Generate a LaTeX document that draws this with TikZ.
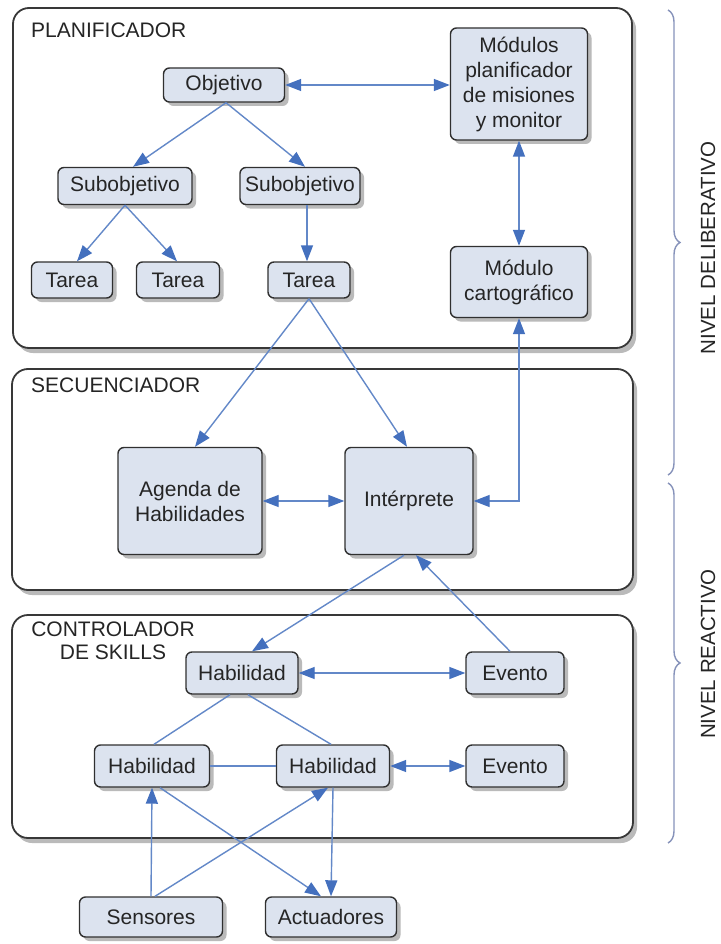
\documentclass[tikz,border=0pt]{standalone}
\usepackage{fontspec}
\setmainfont{Liberation Sans}
\usetikzlibrary{arrows.meta,shadows,decorations.pathreplacing,calc}
\definecolor{boxfill}{HTML}{DCE3EF}
\definecolor{boxline}{HTML}{303030}
\definecolor{panelline}{HTML}{383838}
\definecolor{arrowblue}{HTML}{4470BE}
\definecolor{linkblue}{HTML}{6388C8}
\definecolor{bracecol}{HTML}{8692BA}
\definecolor{txt}{HTML}{252525}
\begin{document}
\begin{tikzpicture}[x=1pt,y=-1pt,
  font=\fontsize{21}{25}\selectfont, text=txt,
  box/.style={draw=boxline, fill=boxfill, rounded corners=6pt, line width=1.4pt,
    drop shadow={shadow xshift=4pt, shadow yshift=-4pt, fill=black!45, opacity=0.6},
    align=center, inner sep=0pt},
  panel/.style={draw=panelline, fill=white, rounded corners=16pt, line width=1.8pt,
    drop shadow={shadow xshift=4pt, shadow yshift=-5pt, fill=black!45, opacity=0.6},
    inner sep=0pt},
  conn/.style={draw=linkblue, line width=1.4pt},
  arr/.style={conn, -{Triangle[length=16pt,width=12pt,fill=arrowblue,color=arrowblue]}},
  darr/.style={conn, {Triangle[length=16pt,width=12pt,fill=arrowblue,color=arrowblue]}-{Triangle[length=16pt,width=12pt,fill=arrowblue,color=arrowblue]}},
  lbl/.style={anchor=west, inner sep=0pt},
  brc/.style={draw=bracecol, line width=1.4pt, decorate, decoration={brace, amplitude=12pt}}
]
\useasboundingbox (0,0) rectangle (720,944);
\fill[white] (0,0) rectangle (720,944);

% panels
\node[panel, minimum width=619pt, minimum height=340pt] (p1) at (322.5,178) {};
\node[panel, minimum width=621pt, minimum height=221pt] (p2) at (322.5,479.5) {};
\node[panel, minimum width=621pt, minimum height=223pt] (p3) at (322.5,726.5) {};

\node[lbl] (l1) at (31,30) {PLANIFICADOR};
\node[lbl] (l2) at (31,385) {SECUENCIADOR};
\node[align=center, inner sep=0pt, font=\fontsize{21}{23}\selectfont] (l3) at (113,641) {CONTROLADOR\\DE SKILLS};

% planner nodes
\node[box, minimum width=121pt, minimum height=34pt] (obj) at (224,85) {Objetivo};
\node[box, minimum width=137pt, minimum height=112pt] (mod) at (519,84) {Módulos\\planificador\\de misiones\\y monitor};
\node[box, minimum width=134pt, minimum height=37pt] (subL) at (125,186) {Subobjetivo};
\node[box, minimum width=120pt, minimum height=37pt] (subR) at (300,186) {Subobjetivo};
\node[box, minimum width=81pt, minimum height=36pt] (t1) at (72,280) {Tarea};
\node[box, minimum width=83pt, minimum height=36pt] (t2) at (178,280) {Tarea};
\node[box, minimum width=82pt, minimum height=36pt] (t3) at (309,280) {Tarea};
\node[box, minimum width=137pt, minimum height=71pt] (carto) at (519,282) {Módulo\\cartográfico};

% sequencer nodes
\node[box, minimum width=144pt, minimum height=107pt] (agenda) at (190,501) {Agenda de\\Habilidades};
\node[box, minimum width=128pt, minimum height=107pt] (interp) at (409,501) {Intérprete};

% controller nodes
\node[box, minimum width=112pt, minimum height=42pt] (habT) at (242,673) {Habilidad};
\node[box, minimum width=98pt, minimum height=42pt] (evT) at (515,673) {Evento};
\node[box, minimum width=115pt, minimum height=42pt] (habL) at (152,766) {Habilidad};
\node[box, minimum width=113pt, minimum height=42pt] (habM) at (333,766) {Habilidad};
\node[box, minimum width=98pt, minimum height=42pt] (evB) at (515,766) {Evento};
\node[box, minimum width=143pt, minimum height=40pt] (sens) at (151,917) {Sensores};
\node[box, minimum width=131pt, minimum height=40pt] (act) at (331,917) {Actuadores};

% planner connectors
\draw[darr] (obj.east) -- (obj.east -| mod.west);
\draw[arr] ($(obj.south)+(2,0)$) -- ($(subL.north)+(8,0)$);
\draw[arr] ($(obj.south)+(2,0)$) -- ($(subR.north)+(5,0)$);
\draw[arr] (subL.south) -- ($(t1.north)+(5,0)$);
\draw[arr] (subL.south) -- ($(t2.north)+(-1,0)$);
\draw[arr] ($(subR.south)+(7,0)$) -- ($(t3.north)+(-2,0)$);
\draw[darr] (mod.south) -- (carto.north);

% sequencer connectors
\draw[arr] (t3.south) -- ($(agenda.north)+(5,0)$);
\draw[arr] (t3.south) -- ($(interp.north)+(-2,0)$);
\draw[darr] (carto.south) |- (interp.east);
\draw[darr] (agenda.east) -- (interp.west);

% controller connectors
\draw[arr] ($(interp.south)+(-5,0)$) -- ($(habT.north)+(10,0)$);
\draw[arr] ($(evT.north)+(-5,0)$) -- ($(interp.south)+(7,0)$);
\draw[darr] (habT.east) -- (evT.west);
\draw[conn] ($(habT.south)+(-12,0)$) -- ($(habL.north)+(2,0)$);
\draw[conn] ($(habT.south)+(6,0)$) -- ($(habM.north)+(-2,0)$);
\draw[conn] (habL.east) -- (habM.west);
\draw[darr] (habM.east) -- (evB.west);
\draw[arr] (sens.north) -- (habL.south);
\draw[arr] ($(sens.north)+(4,0)$) -- ($(habM.south)+(-5,0)$);
\draw[arr] ($(habL.south)+(8,0)$) -- ($(act.north)+(-10,0)$);
\draw[arr] (habM.south) -- (act.north);

% braces
\coordinate (b1s) at (668,10);
\coordinate (b1e) at (668,475);
\coordinate (b2s) at (668,483);
\coordinate (b2e) at (668,843);
\draw[brc] (b1s) -- (b1e);
\draw[brc] (b2s) -- (b2e);
\node[rotate=90, inner sep=0pt, font=\fontsize{20.5}{24}\selectfont] (nd) at (708,248) {NIVEL DELIBERATIVO};
\node[rotate=90, inner sep=0pt, font=\fontsize{20.5}{24}\selectfont] (nr) at (708,654) {NIVEL REACTIVO};
\end{tikzpicture}
\end{document}
